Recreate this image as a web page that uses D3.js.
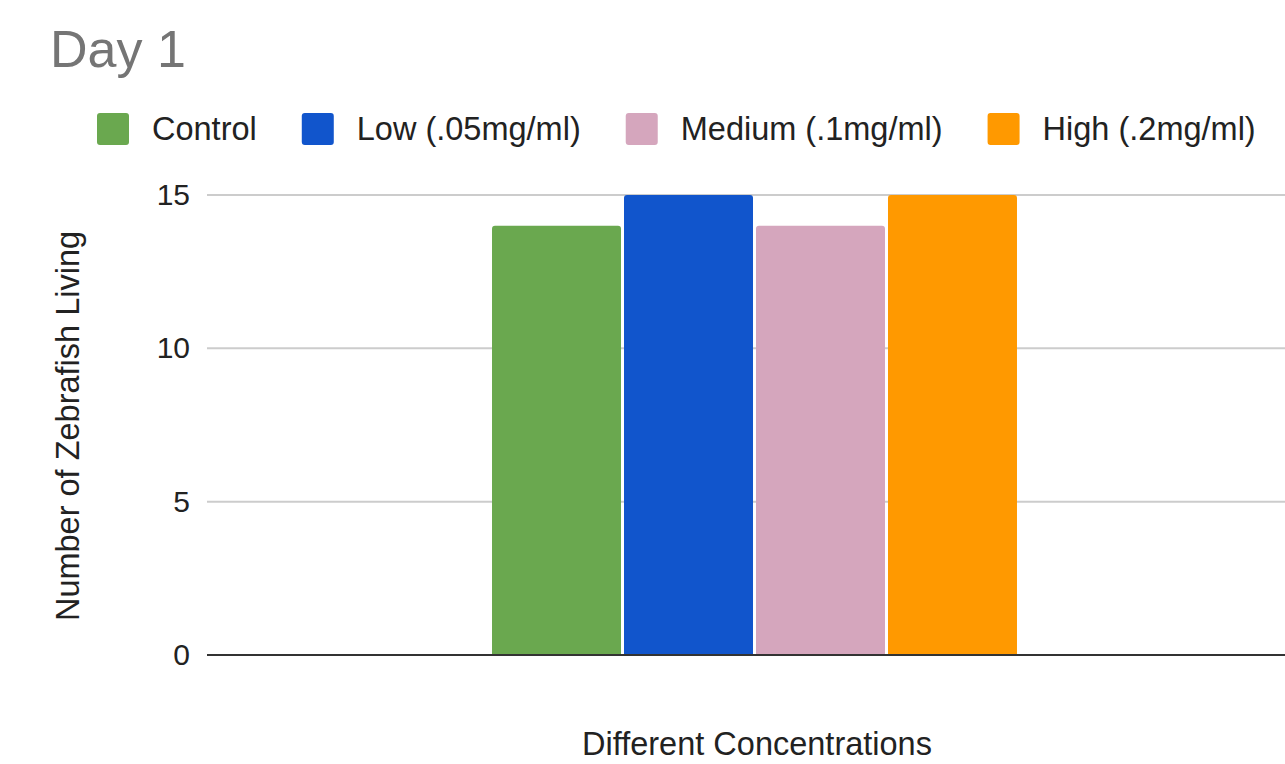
<!DOCTYPE html>
<html>
<head>
<meta charset="utf-8">
<script src="https://cdn.jsdelivr.net/npm/d3@7"></script>
<style>
  html, body { margin: 0; padding: 0; background: #fff; }
  svg { display: block; font-family: "Liberation Sans", Arial, sans-serif; }
</style>
</head>
<body>
<svg id="chart" width="1285" height="764"></svg>
<script>
const categories = [""];
const seriesNames = ["Control", "Low (.05mg/ml)", "Medium (.1mg/ml)", "High (.2mg/ml)"];
const seriesValues = [14, 15, 14, 15];
const seriesColors = ["#6aa84f", "#1155cc", "#d5a6bd", "#ff9900"];
const yTicks = [0, 5, 10, 15];
const titleText = "Day 1";
const xTitle = "Different Concentrations";
const yTitle = "Number of Zebrafish Living";

const svg = d3.select("#chart");
const plot = { left: 207, right: 1302, top: 195, bottom: 655 };

const y = d3.scaleLinear().domain([0, 15]).range([plot.bottom, plot.top]);
const x0 = d3.scaleBand().domain(categories).range([plot.left, plot.right])
  .paddingInner(0).paddingOuter(0.5429);
const x1 = d3.scaleBand().domain(seriesNames).range([0, x0.bandwidth()])
  .paddingInner(3 / 132).paddingOuter(0);

// Title
svg.append("text").attr("x", 50).attr("y", 67)
  .attr("font-size", 52).attr("fill", "#757575").text(titleText);

// Y axis tick labels
const yAxis = d3.axisLeft(y).tickValues(yTicks).tickSize(0).tickPadding(17);
const gAxis = svg.append("g").attr("transform", `translate(${plot.left},0)`).call(yAxis);
gAxis.select(".domain").remove();
gAxis.selectAll("text").attr("font-size", 30).attr("fill", "#222")
  .attr("font-family", "Liberation Sans, Arial, sans-serif");

// Grid lines
svg.append("g").selectAll("line").data(yTicks.filter(d => d !== 0)).join("line")
  .attr("x1", plot.left).attr("x2", 1285)
  .attr("y1", d => y(d)).attr("y2", d => y(d))
  .attr("stroke", "#cccccc").attr("stroke-width", 2);

// Bars with rounded top corners
const r = 3;
function barPath(x, w, yt, yb) {
  return `M${x},${yb}V${yt + r}Q${x},${yt} ${x + r},${yt}H${x + w - r}Q${x + w},${yt} ${x + w},${yt + r}V${yb}Z`;
}
const gBars = svg.append("g");
categories.forEach(cat => {
  gBars.selectAll("path.bar").data(seriesNames.map((s, i) => ({ s, v: seriesValues[i], c: seriesColors[i] })))
    .join("path").attr("class", "bar")
    .attr("d", d => barPath(x0(cat) + x1(d.s), x1.bandwidth(), y(d.v), y(0)))
    .attr("fill", d => d.c);
});

// Baseline
svg.append("line").attr("x1", plot.left).attr("x2", 1285)
  .attr("y1", y(0)).attr("y2", y(0))
  .attr("stroke", "#333333").attr("stroke-width", 2);

// Legend
const legend = svg.append("g");
let lx = 97;
seriesNames.forEach((s, i) => {
  legend.append("rect").attr("x", lx).attr("y", 113).attr("width", 32).attr("height", 32)
    .attr("rx", 3).attr("fill", seriesColors[i]);
  const t = legend.append("text").attr("x", lx + 55).attr("y", 140)
    .attr("font-size", 32.5).attr("fill", "#222").text(s);
  lx += 55 + t.node().getComputedTextLength() + 45;
});

// Axis titles
svg.append("text").attr("x", 757).attr("y", 755)
  .attr("text-anchor", "middle").attr("font-size", 32.5).attr("fill", "#222").text(xTitle);
svg.append("text").attr("transform", `translate(79,426) rotate(-90)`)
  .attr("text-anchor", "middle").attr("font-size", 32.5).attr("fill", "#222").text(yTitle);
</script>
</body>
</html>
